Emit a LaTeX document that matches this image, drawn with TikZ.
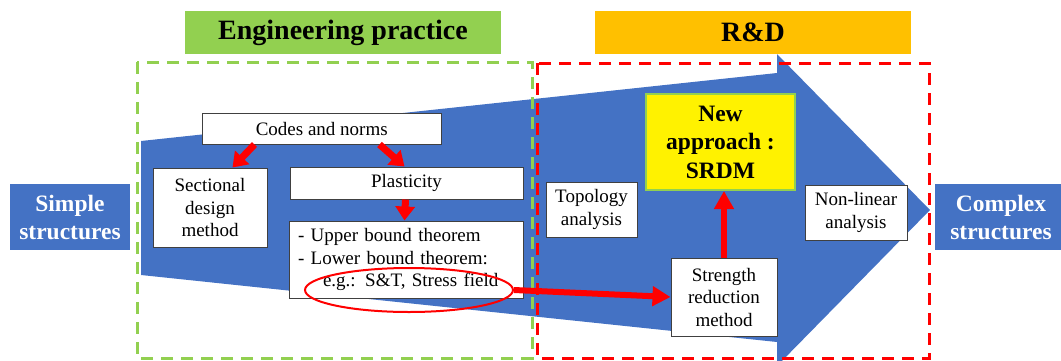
\documentclass[tikz,border=0pt]{standalone}
\usepackage{fontspec}
\setmainfont{Liberation Serif}
\usetikzlibrary{arrows.meta,shapes.geometric}
\definecolor{flowblue}{HTML}{4472C4}
\definecolor{leafgreen}{HTML}{92D050}
\definecolor{amber}{HTML}{FFC000}
\definecolor{boxedge}{HTML}{404040}
\begin{document}
\begin{tikzpicture}[x=1pt,y=-1pt,
  wbox/.style={draw=boxedge, line width=1pt, fill=white, align=center, inner sep=0pt,
    font=\fontsize{19}{22.5}\selectfont},
  bluebox/.style={fill=flowblue, text=white, align=center, inner sep=0pt,
    font=\fontsize{23.5}{28}\selectfont\bfseries},
  headbox/.style={inner sep=0pt, minimum width=316pt, minimum height=43pt,
    font=\fontsize{28}{32}\selectfont\bfseries},
  zone/.style={line width=3pt, dash pattern=on 12pt off 8pt},
  flowarrow/.style={draw=red, line width=7pt, -{Triangle[length=14pt,width=19pt]}},
  longarrow/.style={draw=red, line width=6pt, -{Triangle[length=18pt,width=19pt]}}
]
\path[use as bounding box, clip] (0,0) rectangle (1061,360);

% broad progress arrow in the background
\fill[flowblue] (141,141) -- (777,73) -- (777,54) -- (930,210)
  -- (777,366) -- (777,342) -- (141,275) -- cycle;

% dashed zones
\draw[zone, leafgreen] (137,62) rectangle (532,358);
\draw[zone, red] (537,63) rectangle (929,358);

% zone headings
\node[headbox, fill=leafgreen] (eng) at (343,32.5) {Engineering practice};
\node[headbox, fill=amber] (rd) at (753,32.5) {R\&D};

% end points of the scale
\node[bluebox, minimum width=120pt, minimum height=66pt] (simple) at (70,217) {Simple\\structures};
\node[bluebox, minimum width=132pt, minimum height=66pt] (complex) at (1001,217) {Complex\\structures};

% engineering practice
\node[wbox, minimum width=239.5pt, minimum height=31pt] (codes) at (321.75,128.5) {Codes and norms};
\node[wbox, minimum width=114pt, minimum height=79pt] (sec) at (210,207.5) {Sectional\\design\\method};
\node[wbox, minimum width=233pt, minimum height=32pt] (plast) at (406.5,183) {Plasticity};
\node[wbox, align=left, text width=216pt, inner xsep=9pt, minimum height=77pt] (bounds) at (406,259.5)
  {- Upper bound theorem\\- Lower bound theorem:\\\hspace*{25pt}e.g.: S\&T, Stress field};

% research and development
\node[wbox, minimum width=91pt, minimum height=55pt] (topo) at (591.5,209.5) {Topology\\analysis};
\node[wbox, minimum width=106pt, minimum height=78pt] (srm) at (724,297) {Strength\\reduction\\method};
\node[wbox, minimum width=102pt, minimum height=55pt] (nonlin) at (856,212.5) {Non-linear\\analysis};
\node[draw=leafgreen, line width=2pt, fill=yellow, minimum width=149pt, minimum height=96pt,
  inner sep=0pt, align=center, font=\fontsize{23.5}{28.5}\selectfont\bfseries] (srdm)
  at (720.5,142) {New\\approach :\\SRDM};

% connectors
\draw[flowarrow] ([xshift=53pt]codes.south west) -- ([xshift=80pt]sec.north west);
\draw[flowarrow] ([xshift=178pt]codes.south west) -- ([xshift=115pt]plast.north west);
\draw[flowarrow] ([xshift=116pt]plast.south west) -- ([xshift=116pt]bounds.north west);

\node[ellipse, draw=red, line width=2pt, minimum width=208pt, minimum height=44pt, inner sep=0pt] (eg) at (409,290) {};

\draw[longarrow] (eg.east) -- (srm.west);
\draw[longarrow] (srm.north) -- (srm.north |- srdm.south);
\end{tikzpicture}
\end{document}
